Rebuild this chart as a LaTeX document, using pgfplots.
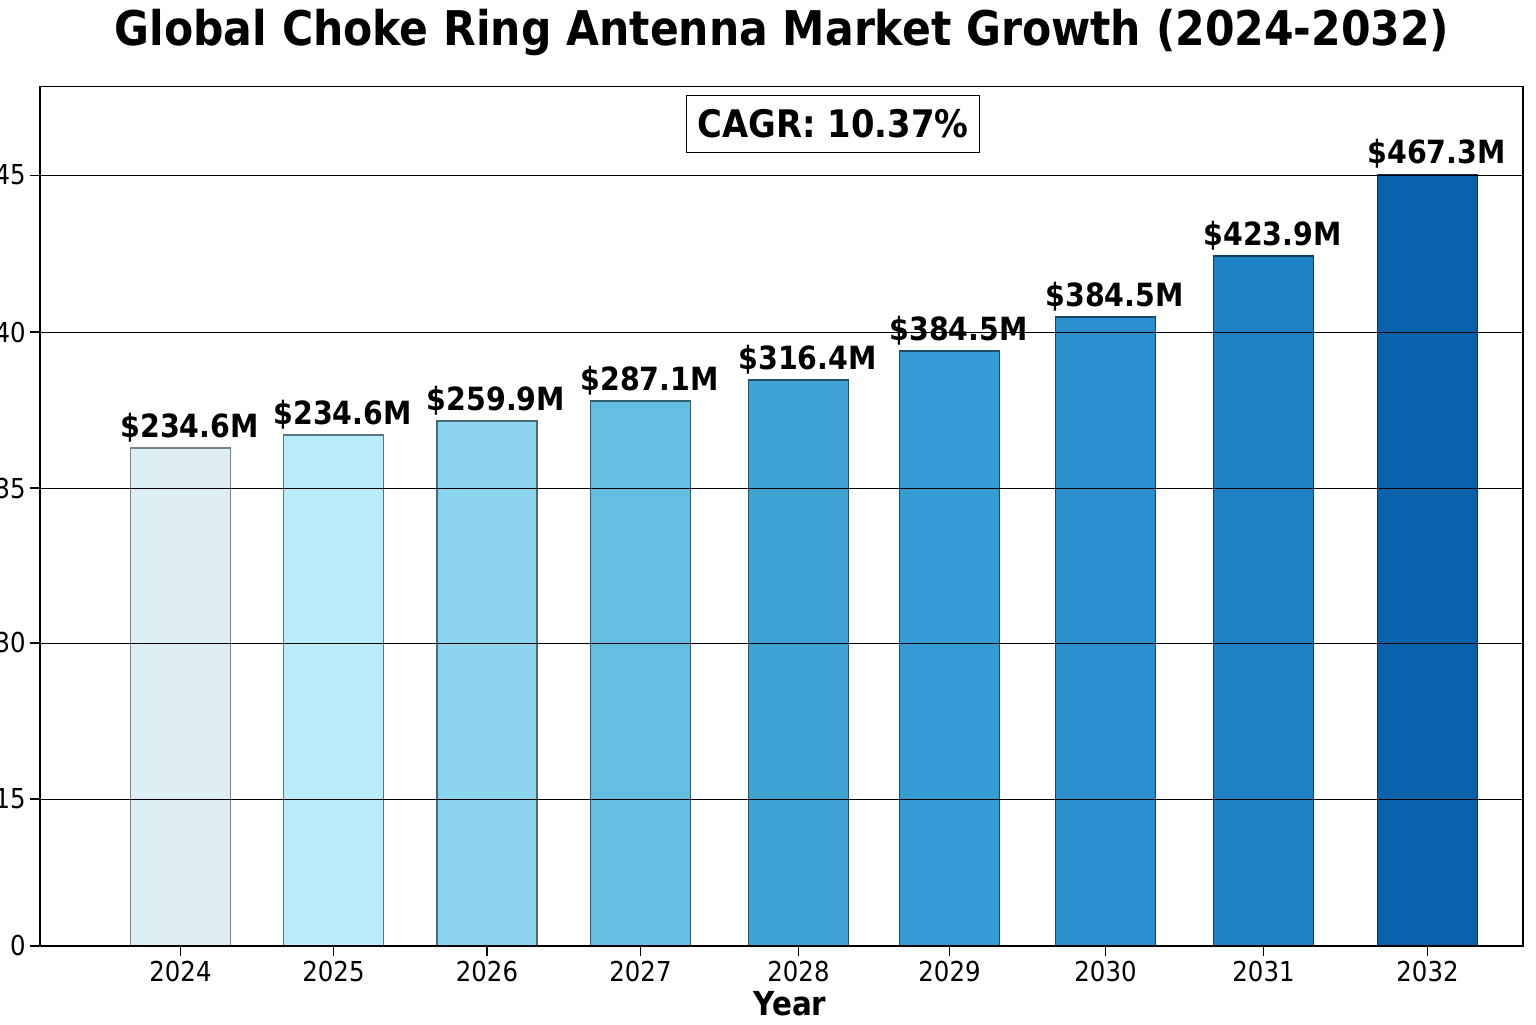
\documentclass[border=0pt]{standalone}
\usepackage{pgfplots}
\pgfplotsset{compat=1.18}
\usepackage{fontspec}
\setmainfont{DejaVu Sans}[FakeStretch=0.89]
\definecolor{c1}{HTML}{DDEEF4}
\definecolor{c2}{HTML}{B8ECFB}
\definecolor{c3}{HTML}{8DD4EE}
\definecolor{c4}{HTML}{66BDE2}
\definecolor{c5}{HTML}{3FA3D4}
\definecolor{c6}{HTML}{359BD4}
\definecolor{c7}{HTML}{2A8ECF}
\definecolor{c8}{HTML}{1E80C5}
\definecolor{c9}{HTML}{0A62AD}
\begin{document}
\begin{tikzpicture}
\begin{axis}[
  at={(0,0)}, anchor=south west,
  scale only axis, width=148.3mm, height=86mm,
  xmin=0, xmax=1483, ymin=0, ymax=860,
  ybar, bar width=10mm, bar shift=0pt,
  axis on top,
  axis line style={black, line width=0.3pt},
  xtick={140.5,293.5,447,600.5,758.5,909.5,1065.5,1223.5,1387.5},
  xticklabels={2024,2025,2026,2027,2028,2029,2030,2031,2032},
  ytick={0,147,303,458,614,771},
  yticklabels={0,15,30,35,40,45},
  tick pos=left, tick align=outside, major tick length=1mm,
  tick style={black, line width=0.3pt},
  ymajorgrids, grid style={black, line width=0.25pt},
  ticklabel style={font=\fontsize{7.8}{8}\selectfont},
  xticklabel style={yshift=0.7mm},
  yticklabel style={xshift=0.8mm},
  /pgf/number format/assume math mode=true,
  nodes near coords style={font=\bfseries\fontsize{9.1}{9}\selectfont, anchor=south, xshift=0.9mm, yshift=-0.6mm},
]
\addplot[fill=c1, draw=c1!55!black, line width=0.3pt, nodes near coords={\$234.6M}] coordinates {(140.5,498)};
\addplot[fill=c2, draw=c2!50!black, line width=0.3pt, nodes near coords={\$234.6M}] coordinates {(293.5,511)};
\addplot[fill=c3, draw=c3!50!black, line width=0.3pt, nodes near coords={\$259.9M}] coordinates {(447,525)};
\addplot[fill=c4, draw=c4!50!black, line width=0.3pt, nodes near coords={\$287.1M}] coordinates {(600.5,545)};
\addplot[fill=c5, draw=c5!50!black, line width=0.3pt, nodes near coords={\$316.4M}] coordinates {(758.5,566)};
\addplot[fill=c6, draw=c6!50!black, line width=0.3pt, nodes near coords={\$384.5M}] coordinates {(909.5,595)};
\addplot[fill=c7, draw=c7!50!black, line width=0.3pt, nodes near coords={\$384.5M}] coordinates {(1065.5,629)};
\addplot[fill=c8, draw=c8!50!black, line width=0.3pt, nodes near coords={\$423.9M}] coordinates {(1223.5,690)};
\addplot[fill=c9, draw=c9!50!black, line width=0.3pt, nodes near coords={\$467.3M}] coordinates {(1387.5,772)};
\end{axis}
\node[font=\bfseries\fontsize{13.6}{14}\selectfont] at (74.2mm,91.3mm) {Global Choke Ring Antenna Market Growth (2024-2032)};
\node[draw, line width=0.3pt, inner xsep=1.1mm, inner ysep=1.4mm, font=\bfseries\fontsize{10.8}{10.8}\selectfont] at (79.3mm,82.2mm) {CAGR: 10.37\%};
\node[font=\bfseries\fontsize{9.4}{9.4}\selectfont] at (75mm,-5.8mm) {Year};
\pgfresetboundingbox
\path[use as bounding box] (-4mm,-7.8mm) rectangle (149.6mm,94.6mm);
\end{tikzpicture}
\end{document}
